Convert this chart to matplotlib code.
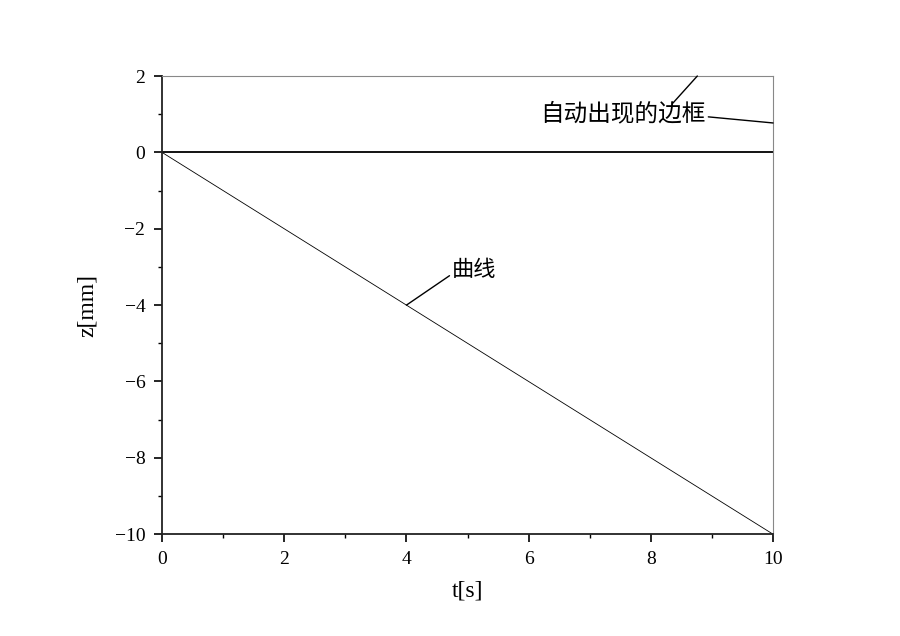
import matplotlib
matplotlib.use("Agg")
import matplotlib.pyplot as plt
from matplotlib.ticker import MultipleLocator

plt.rcParams['font.family'] = ['Liberation Serif', 'Noto Sans CJK SC', 'DejaVu Sans']
plt.rcParams['axes.unicode_minus'] = True

# data
t = [0, 10]
z = [0, -10]
zero_t = [0, 10]
zero_z = [0, 0]
xticks = [0, 2, 4, 6, 8, 10]
yticks = [-10, -8, -6, -4, -2, 0, 2]
curve_label = "曲线"
frame_label = "自动出现的边框"

fig = plt.figure(figsize=(9, 6.36), dpi=100)
ax = fig.add_axes([0.18, 0.16, 0.679, 0.7205])

ax.plot(zero_t, zero_z, color='black', lw=1.3)
ax.plot(t, z, color='black', lw=0.6)

ax.set_xlim(0, 10)
ax.set_ylim(-10, 2)
ax.set_xticks(xticks)
ax.set_yticks(yticks)
ax.xaxis.set_minor_locator(MultipleLocator(1))
ax.yaxis.set_minor_locator(MultipleLocator(1))
ax.tick_params(which='major', direction='out', length=6, width=1.2, labelsize=14, pad=6)
ax.tick_params(which='minor', direction='out', length=3, width=1.0)
ax.tick_params(top=False, right=False, which='both')

for s in ['left', 'bottom']:
    ax.spines[s].set_linewidth(1.3)
    ax.spines[s].set_color('#222222')
for s in ['top', 'right']:
    ax.spines[s].set_linewidth(0.8)
    ax.spines[s].set_color('#888888')

ax.set_xlabel('t[s]', fontsize=17, labelpad=9)
ax.set_ylabel('z[mm]', fontsize=17, labelpad=12)

# annotations
ax.annotate(curve_label, xy=(4.0, -4.0), xytext=(4.75, -3.1),
            fontsize=16, va='center', ha='left',
            arrowprops=dict(arrowstyle='-', color='black', lw=1.0,
                            shrinkA=0, shrinkB=0, relpos=(0, 0.35)))

ax.text(6.18, 1.0, frame_label, fontsize=17, va='center', ha='left')
ax.annotate('', xy=(8.76, 2.0), xytext=(8.36, 1.29), annotation_clip=False,
            arrowprops=dict(arrowstyle='-', color='black', lw=1.0, shrinkA=0, shrinkB=0))
ax.annotate('', xy=(10.0, 0.77), xytext=(8.94, 0.93), annotation_clip=False,
            arrowprops=dict(arrowstyle='-', color='black', lw=1.0, shrinkA=0, shrinkB=0))

fig.savefig('out.png', dpi=100)
